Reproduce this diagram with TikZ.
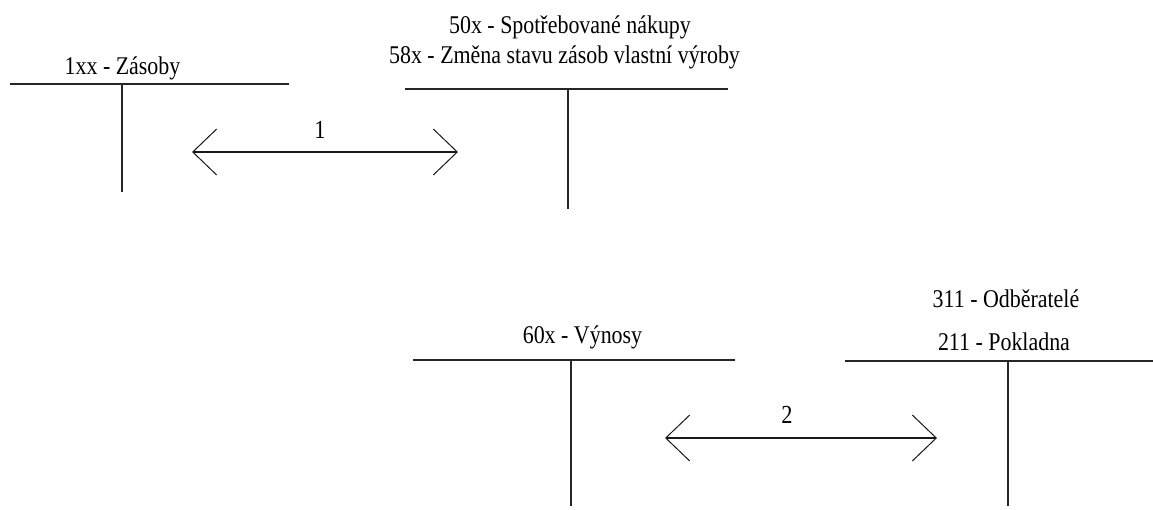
\documentclass[tikz,border=0pt]{standalone}
\usepackage{fontspec}
\setmainfont{Liberation Serif}[FakeStretch=0.86]
\usetikzlibrary{arrows.meta}
\tikzset{
  acct/.style={line width=1.6pt, draw=black!85},
  flow/.style={line width=1.2pt, draw=black!90,
    {Straight Barb[length=24pt,width=46pt,line width=1pt]}-{Straight Barb[length=24pt,width=46pt,line width=1pt]}},
  lbl/.style={anchor=base, inner sep=0pt, font=\fontsize{25.5}{29}\selectfont},
  num/.style={anchor=base, inner sep=0pt, font=\fontsize{26}{30}\selectfont}
}
\begin{document}
\begin{tikzpicture}[x=1pt,y=-1pt]
\useasboundingbox (0,0) rectangle (1153,509);
% T account 1
\node[lbl] (t1) at (122.5,74) {1xx - Zásoby};
\coordinate (t1l) at (10,84); \coordinate (t1r) at (289,84);
\coordinate (t1t) at (122,84); \coordinate (t1b) at (122,192);
\draw[acct] (t1l) -- (t1r); \draw[acct] (t1t) -- (t1b);
% T account 2
\node[lbl] (t2a) at (570,33) {50x - Spotřebované nákupy};
\node[lbl] (t2b) at (564.5,63) {58x - Změna stavu zásob vlastní výroby};
\coordinate (t2l) at (405,89); \coordinate (t2r) at (728,89);
\coordinate (t2t) at (568,89); \coordinate (t2bot) at (568,209);
\draw[acct] (t2l) -- (t2r); \draw[acct] (t2t) -- (t2bot);
% T account 3
\node[lbl] (t3) at (582.5,343) {60x - Výnosy};
\coordinate (t3l) at (413,360); \coordinate (t3r) at (735,360);
\coordinate (t3t) at (571,360); \coordinate (t3b) at (571,506);
\draw[acct] (t3l) -- (t3r); \draw[acct] (t3t) -- (t3b);
% T account 4
\node[lbl] (t4a) at (1006,307) {311 - Odběratelé};
\node[lbl] (t4b) at (1004,350) {211 - Pokladna};
\coordinate (t4l) at (845,361); \coordinate (t4r) at (1153,361);
\coordinate (t4t) at (1008,361); \coordinate (t4b2) at (1008,506);
\draw[acct] (t4l) -- (t4r); \draw[acct] (t4t) -- (t4b2);
% arrows
\coordinate (a1l) at (192,152); \coordinate (a1r) at (458,152);
\draw[flow] (a1l) -- (a1r);
\node[num] (n1) at (320,138) {1};
\coordinate (a2l) at (665,438); \coordinate (a2r) at (937,438);
\draw[flow] (a2l) -- (a2r);
\node[num] (n2) at (787,423) {2};
\end{tikzpicture}
\end{document}
